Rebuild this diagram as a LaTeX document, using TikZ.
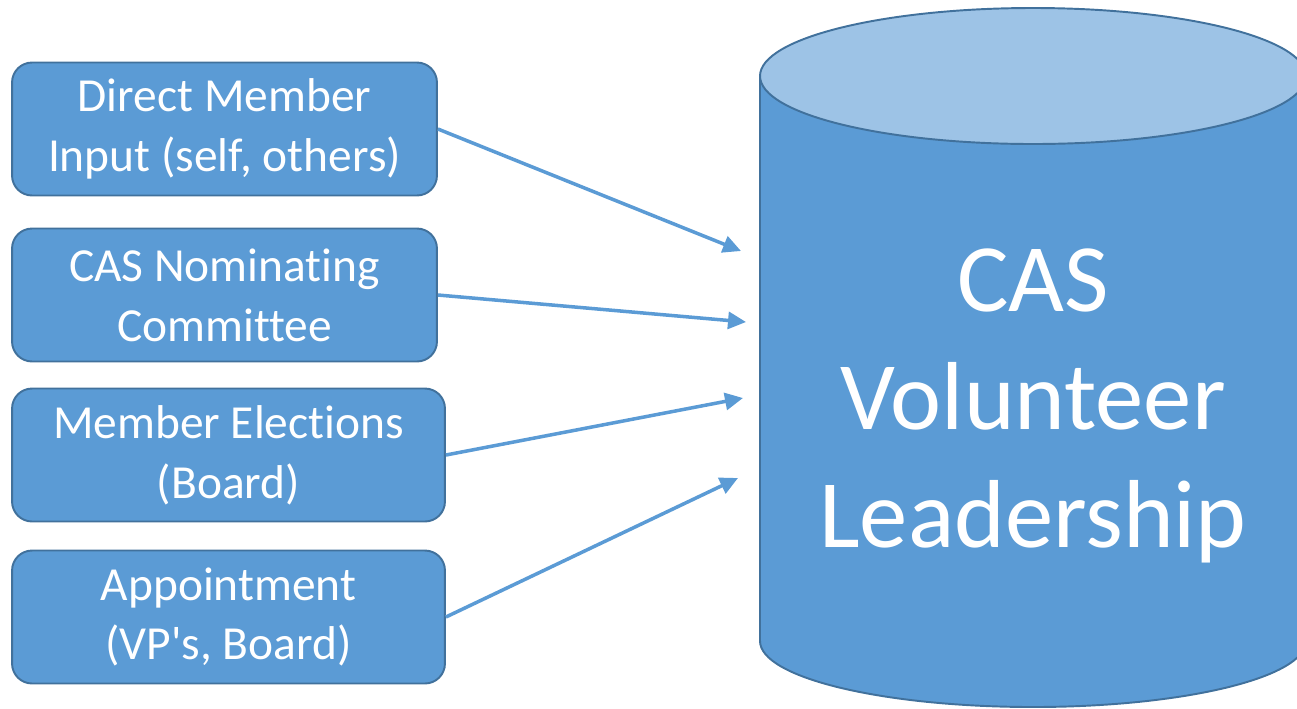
\documentclass[tikz,border=0pt]{standalone}
\usepackage{fontspec}
\setmainfont{Carlito}[Ligatures={TeXOff,CommonOff}]
\usetikzlibrary{arrows.meta}
\definecolor{boxblue}{HTML}{5B9BD5}
\definecolor{edgeblue}{HTML}{41719C}
\definecolor{topblue}{HTML}{9DC3E6}
\tikzset{
  source/.style={draw=edgeblue, fill=boxblue, line width=1.1pt, rounded corners=0.4cm,
    text=white, align=center, font=\fontsize{27}{34}\selectfont,
    minimum height=2.66cm, inner sep=0pt},
  feed/.style={draw=boxblue, line width=2pt, -{Triangle[length=0.36cm,width=0.34cm]}}
}
\begin{document}
\begin{tikzpicture}[x=0.02cm,y=-0.02cm]
\useasboundingbox (0,0) rectangle (1297,708);

% the cylinder
\filldraw [draw=edgeblue, fill=boxblue, line width=1.1pt]
  (760,76) -- (760,641)
  arc [start angle=180, end angle=0, x radius=273, y radius=66]
  -- (1306,76) -- cycle;
\filldraw [draw=edgeblue, fill=topblue, line width=1.1pt]
  (1033,76) ellipse [x radius=273, y radius=68];
\node [text=white, align=center, font=\fontsize{55}{67}\selectfont]
  (leaders) at (1033,406) {CAS\\ Volunteer\\ Leadership};

\node [source, minimum width=8.5cm]  (direct)     at (224.5,129) {Direct Member\\ Input (self, others)};
\node [source, minimum width=8.5cm]  (nominating) at (224.5,295) {CAS Nominating\\ Committee};
\node [source, minimum width=8.66cm] (elections)  at (228.5,455) {Member Elections\\ (Board)};
\node [source, minimum width=8.66cm] (appoint)    at (228.5,617) {Appointment\\ (VP's, Board)};

\coordinate (in1) at (741,251);
\coordinate (in2) at (746,322);
\coordinate (in3) at (743,398);
\coordinate (in4) at (738,478);

\draw [feed] (direct.east)     -- (in1);
\draw [feed] (nominating.east) -- (in2);
\draw [feed] (elections.east)  -- (in3);
\draw [feed] (appoint.east)    -- (in4);
\end{tikzpicture}
\end{document}
